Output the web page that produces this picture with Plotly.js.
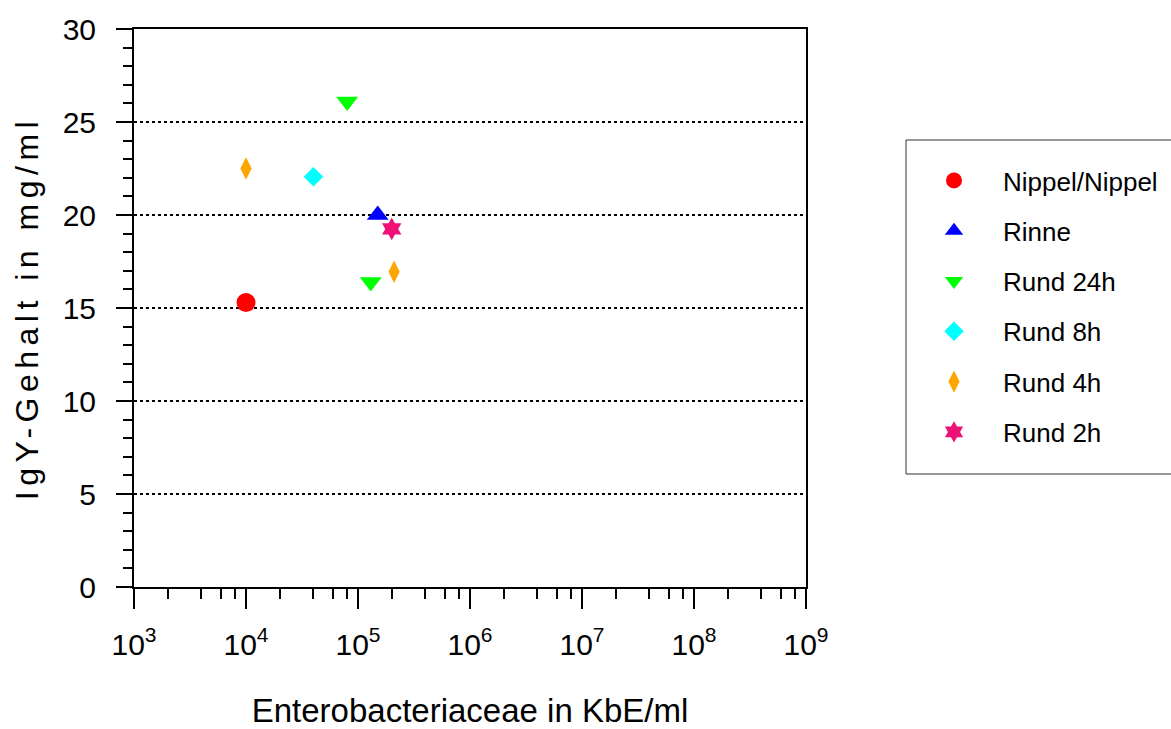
<!DOCTYPE html>
<html>
<head>
<meta charset="utf-8">
<script src="https://cdn.plot.ly/plotly-3.0.1.min.js"></script>
<style>
html,body{margin:0;padding:0;background:#fff;}
#chart{width:1171px;height:729px;}
.ytitle{letter-spacing:5.5px;}
</style>
</head>
<body>
<div id="chart"></div>
<script>
// ---- data ----
const seriesNames = ["Nippel/Nippel", "Rinne", "Rund 24h", "Rund 8h", "Rund 4h", "Rund 2h"];
const nippelX = [1e4];          const nippelY = [15.3];
const rinneX  = [1.5e5];        const rinneY  = [20.0];
const rund24X = [8e4, 1.3e5];   const rund24Y = [26.1, 16.4];
const rund8X  = [4e4];          const rund8Y  = [22.05];
const rund4X  = [1e4, 2.1e5];   const rund4Y  = [22.5, 16.95];
const rund2X  = [2e5];          const rund2Y  = [19.25];

const xTickVals = [1e3, 1e4, 1e5, 1e6, 1e7, 1e8, 1e9];
const xTickText = ["10<sup>3</sup>", "10<sup>4</sup>", "10<sup>5</sup>", "10<sup>6</sup>",
                   "10<sup>7</sup>", "10<sup>8</sup>", "10<sup>9</sup>"];
const xMinorMultipliers = [2, 4, 6, 8];

const xTitle = "Enterobacteriaceae in KbE/ml";
const yTitle = "IgY-Gehalt in mg/ml";

// ---- styling ----
const FONT = "'Liberation Sans', Arial, sans-serif";
const styles = [
  {color: "#FF0000", symbol: "circle",       size: 19},
  {color: "#0000FF", symbol: "triangle-up",  size: 19},
  {color: "#00FF00", symbol: "triangle-down",size: 19},
  {color: "#00FFFF", symbol: "diamond",      size: 15},
  {color: "#FFA500", symbol: "diamond-tall", size: 16},
  {color: "#EE1177", symbol: "hexagram",     size: 17}
];
const xs = [nippelX, rinneX, rund24X, rund8X, rund4X, rund2X];
const ys = [nippelY, rinneY, rund24Y, rund8Y, rund4Y, rund2Y];

const minorVals = [];
for (let k = 3; k < 9; k++) xMinorMultipliers.forEach(m => minorVals.push(m * Math.pow(10, k)));

const traces = seriesNames.map((name, i) => ({
  type: "scatter", mode: "markers", name: name,
  x: xs[i], y: ys[i], legendgroup: "g" + i,
  marker: {color: styles[i].color, symbol: styles[i].symbol, size: styles[i].size, line: {width: 0}}
}));

const PW = 672, PH = 558;   // plot area size in px
const layout = {
  width: 1171, height: 729,
  margin: {l: 134, r: 365, t: 29, b: 142, autoexpand: false},
  paper_bgcolor: "#fff", plot_bgcolor: "#fff",
  font: {family: FONT, color: "#000"},
  showlegend: true,
  legend: {
    x: (905 - 134) / PW, y: (587 - 157) / PH, xanchor: "left", yanchor: "top",
    borderwidth: 0, bgcolor: "rgba(0,0,0,0)",
    font: {family: FONT, size: 26, color: "#000"},
    traceorder: "grouped", tracegroupgap: 13.5, itemwidth: 88
  },
  shapes: [{
    type: "rect", xref: "paper", yref: "paper", layer: "below",
    x0: (906 - 134) / PW, x1: (1180 - 134) / PW,
    y0: (587 - 474) / PH, y1: (587 - 140) / PH,
    line: {color: "#333", width: 1}, fillcolor: "rgba(0,0,0,0)"
  }],
  xaxis: {
    type: "log", range: [3, 9],
    tickmode: "array", tickvals: xTickVals, ticktext: xTickText,
    ticks: "outside", ticklen: 20, tickwidth: 2, tickcolor: "#000",
    ticklabelstandoff: 10,
    tickfont: {family: FONT, size: 30, color: "#000"},
    minor: {tickmode: "array", tickvals: minorVals, ticks: "outside", ticklen: 10, tickwidth: 2, tickcolor: "#000", showgrid: false},
    showline: true, linewidth: 2, linecolor: "#000", mirror: true,
    showgrid: false, zeroline: false,
    title: {text: xTitle, font: {family: FONT, size: 33, color: "#000"}, standoff: 39}
  },
  yaxis: {
    range: [0, 30], dtick: 5, tick0: 0,
    ticks: "outside", ticklen: 16, tickwidth: 2, tickcolor: "#000",
    ticklabelstandoff: 14,
    tickfont: {family: FONT, size: 30, color: "#000"},
    minor: {dtick: 1, ticks: "outside", ticklen: 9, tickwidth: 2, tickcolor: "#000", showgrid: false},
    showline: true, linewidth: 2, linecolor: "#000", mirror: true,
    showgrid: true, gridcolor: "#000", gridwidth: 1.5, griddash: "dot",
    zeroline: false,
    title: {text: yTitle, font: {family: FONT, size: 32, color: "#000"}, standoff: 14}
  }
};

Plotly.newPlot("chart", traces, layout, {staticPlot: true, displayModeBar: false});
</script>
</body>
</html>
